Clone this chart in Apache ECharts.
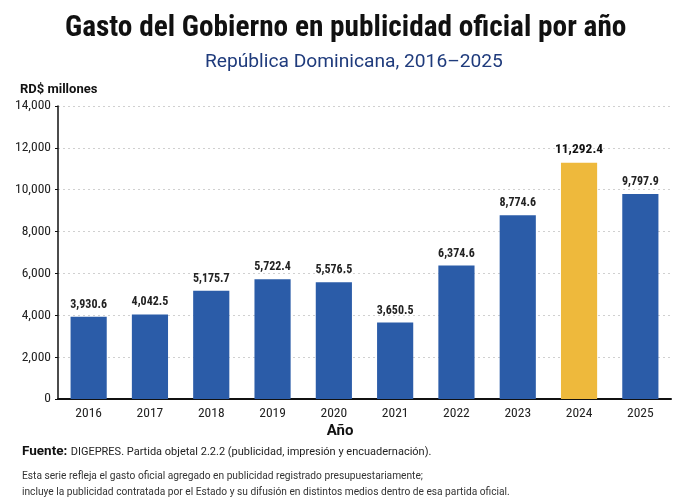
<!DOCTYPE html>
<html>
<head>
<meta charset="utf-8">
<script src="https://cdn.jsdelivr.net/npm/echarts@6/dist/echarts.min.js"></script>
<style>
html,body{margin:0;padding:0;background:#fff;}
#chart{width:680px;height:500px;}
</style>
</head>
<body>
<div id="chart"></div>
<script>
const years = ['2016','2017','2018','2019','2020','2021','2022','2023','2024','2025'];
const spending = [3930.6, 4042.5, 5175.7, 5722.4, 5576.5, 3650.5, 6374.6, 8774.6, 11292.4, 9797.9];
const highlightYear = '2024';
const yTicks = [0, 2000, 4000, 6000, 8000, 10000, 12000, 14000];

const BLUE = '#2b5ca8';
const GOLD = '#eeb93c';
const COND = '"Roboto Condensed", Roboto, sans-serif';
const BASE = 'Roboto, sans-serif';
const fmt = v => v.toLocaleString('en-US', {minimumFractionDigits: 1, maximumFractionDigits: 1});

const chart = echarts.init(document.getElementById('chart'));
chart.setOption({
  backgroundColor: '#ffffff',
  animation: false,
  title: [
    {
      text: 'Gasto del Gobierno en publicidad oficial por año',
      left: 60, top: 9,
      textStyle: {fontFamily: COND, fontWeight: 'bold', fontSize: 29.3, color: '#111'}
    },
    {
      text: 'República Dominicana, 2016–2025',
      left: 200, top: 48,
      textStyle: {fontFamily: BASE, fontWeight: 'normal', fontSize: 19.2, color: '#1f3b7c'}
    }
  ],
  grid: {left: 58, right: 9, top: 106, bottom: 101},
  xAxis: {
    type: 'category',
    data: years,
    axisLine: {show: true, lineStyle: {color: '#111', width: 2}},
    axisTick: {show: false},
    axisLabel: {fontFamily: COND, fontSize: 13.5, color: '#222', margin: 8}
  },
  yAxis: {
    type: 'value',
    min: yTicks[0],
    max: yTicks[yTicks.length - 1],
    interval: yTicks[1] - yTicks[0],
    name: 'RD$ millones',
    nameLocation: 'end',
    nameGap: 10,
    nameTextStyle: {fontFamily: BASE, fontWeight: 'bold', fontSize: 13, color: '#111', align: 'left', padding: [0, 0, 0, -38]},
    axisLine: {show: true, lineStyle: {color: '#111', width: 1.5}},
    axisTick: {show: true, length: 3, lineStyle: {color: '#111'}},
    axisLabel: {fontFamily: COND, fontSize: 13.5, color: '#222', margin: 7,
      formatter: v => v.toLocaleString('en-US')},
    splitLine: {show: true, lineStyle: {color: '#d0d0d0', type: [2, 3], width: 1}}
  },
  series: [{
    type: 'bar',
    barWidth: '59%',
    data: spending.map((v, i) => ({
      value: v,
      itemStyle: {color: years[i] === highlightYear ? GOLD : BLUE},
      label: years[i] === highlightYear
        ? {fontSize: 13.5, fontWeight: 'bold', color: '#111'}
        : undefined
    })),
    label: {
      show: true,
      position: 'top',
      distance: 6,
      fontFamily: COND,
      fontSize: 12,
      fontWeight: 'bold',
      color: '#222',
      formatter: p => fmt(p.value)
    }
  }],
  graphic: [
    {
      type: 'text', left: 'center', top: 424,
      style: {fontFamily: BASE, fontWeight: 'bold', fontSize: 15, fill: '#111', text: 'Año'},
      x: 3
    },
    {
      type: 'text', left: 22, top: 445,
      style: {
        rich: {
          b: {fontFamily: BASE, fontWeight: 'bold', fontSize: 13.5, fill: '#111'},
          n: {fontFamily: BASE, fontSize: 11, fill: '#222'}
        },
        text: '{b|Fuente:} {n|DIGEPRES. Partida objetal 2.2.2 (publicidad, impresión y encuadernación).}'
      }
    },
    {
      type: 'text', left: 22, top: 468,
      style: {
        fontFamily: BASE, fontSize: 10.2, fill: '#333', lineHeight: 16,
        text: 'Esta serie refleja el gasto oficial agregado en publicidad registrado presupuestariamente;\nincluye la publicidad contratada por el Estado y su difusión en distintos medios dentro de esa partida oficial.'
      }
    }
  ]
});
</script>
</body>
</html>
